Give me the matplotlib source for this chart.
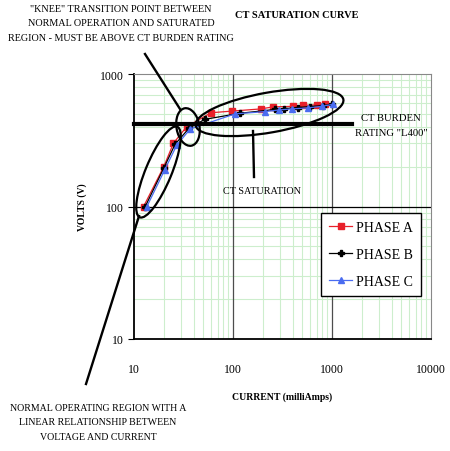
import matplotlib
matplotlib.use("Agg")
import matplotlib.pyplot as plt
from matplotlib.patches import Ellipse
from matplotlib.ticker import LogLocator, NullFormatter

plt.rcParams["font.family"] = ["Liberation Serif", "DejaVu Serif"]

# current (mA) / volts
phase_a_x = [12.5, 20, 25, 34, 60, 98, 190, 255, 405, 510, 700, 850]
phase_a_y = [100, 200, 300, 400, 510, 525, 545, 565, 570, 580, 585, 595]
phase_b_x = [13, 20, 26, 36, 52, 117, 265, 330, 450, 600, 810, 1000]
phase_b_y = [100, 195, 295, 390, 455, 505, 540, 548, 558, 568, 578, 590]
phase_c_x = [13.5, 20.5, 27, 37, 105, 210, 290, 390, 570, 790, 1020]
phase_c_y = [100, 190, 290, 385, 500, 520, 535, 545, 555, 570, 590]
burden_v = 420
burden_x = [10, 1600]

xticks = [10, 100, 1000, 10000]
yticks = [10, 100, 1000]

fig = plt.figure(figsize=(4.5, 4.52), dpi=100)
ax = fig.add_axes([134 / 450, 1 - 340 / 452, 297 / 450, 265 / 452])
ax.set_xscale("log")
ax.set_yscale("log")
ax.set_xlim(10, 10000)
ax.set_ylim(10, 1000)

ax.xaxis.set_minor_locator(LogLocator(base=10, subs=range(2, 10)))
ax.yaxis.set_minor_locator(LogLocator(base=10, subs=range(2, 10)))
ax.xaxis.set_minor_formatter(NullFormatter())
ax.yaxis.set_minor_formatter(NullFormatter())
ax.grid(which="minor", color="#cdeecd", linewidth=0.8)
ax.set_axisbelow(True)
for v in xticks[1:-1]:
    ax.axvline(v, color="#4d4d4d", linewidth=0.9, zorder=1)
ax.axhline(100, color="black", linewidth=0.9, zorder=1)

ax.set_xticks(xticks)
ax.set_yticks(yticks)
ax.set_xticklabels([str(t) for t in xticks])
ax.set_yticklabels([str(t) for t in yticks])
ax.tick_params(axis="x", which="both", length=0, pad=17, labelsize=8.5)
ax.tick_params(axis="y", which="major", length=4, direction="out", pad=3, labelsize=8.5)
ax.tick_params(axis="y", which="minor", length=0)
for s in ["top", "right"]:
    ax.spines[s].set_color("#888888")
    ax.spines[s].set_linewidth(0.8)
for s in ["left", "bottom"]:
    ax.spines[s].set_linewidth(1.3)

ax.plot(phase_a_x, phase_a_y, color="#e8202a", marker="s", markersize=4.6,
        linewidth=0.9, label="PHASE A", zorder=4)
ax.plot(phase_b_x, phase_b_y, color="black", marker="P", markersize=4,
        linewidth=0.9, label="PHASE B", zorder=4)
ax.plot(phase_c_x, phase_c_y, color="#4a6cf0", marker="^", markersize=4.6,
        linewidth=0.9, label="PHASE C", zorder=4)
ax.plot(burden_x, [burden_v, burden_v], color="black", linewidth=3, zorder=5,
        clip_on=False)

ax.set_xlabel("CURRENT (milliAmps)", fontsize=7, fontweight="bold", labelpad=12)
ax.set_ylabel("VOLTS (V)", fontsize=7, fontweight="bold", labelpad=10)

leg = ax.legend(loc="upper right", bbox_to_anchor=(0.99, 0.502), fontsize=10,
                fancybox=False, edgecolor="black", framealpha=1,
                handlelength=1.6, handletextpad=0.3, labelspacing=1.0,
                borderpad=0.6)
leg.get_frame().set_linewidth(1.0)
leg.set_zorder(6)

# overlay in pixel coordinates for the hand-drawn notes
ov = fig.add_axes([0, 0, 1, 1], facecolor="none")
ov.set_xlim(0, 450)
ov.set_ylim(452, 0)
ov.axis("off")

ov.add_patch(Ellipse((158.5, 173), 98, 26, angle=-67.5, fill=False,
                     edgecolor="black", linewidth=1.6))
ov.add_patch(Ellipse((188, 128), 38, 23, angle=80, fill=False,
                     edgecolor="black", linewidth=1.6))
ov.add_patch(Ellipse((269.5, 113.5), 150, 40, angle=-10, fill=False,
                     edgecolor="black", linewidth=1.6))
ov.plot([145, 180], [55, 110], color="black", linewidth=1.7)
ov.plot([253, 254], [132, 178], color="black", linewidth=1.7)
ov.plot([139, 86], [217, 385], color="black", linewidth=1.7)

ov.text(121, 24, "\"KNEE\" TRANSITION POINT BETWEEN\nNORMAL OPERATION AND SATURATED\n"
        "REGION - MUST BE ABOVE CT BURDEN RATING", ha="center", va="center",
        fontsize=7.3, linespacing=1.85)
ov.text(297, 16, "CT SATURATION CURVE", ha="center", va="center",
        fontsize=7.5, fontweight="bold")
ov.text(391, 126, "CT BURDEN\nRATING \"L400\"", ha="center", va="center",
        fontsize=7.7, linespacing=1.8)
ov.text(262, 192, "CT SATURATION", ha="center", va="center", fontsize=7.3)
ov.text(98, 423, "NORMAL OPERATING REGION WITH A\nLINEAR RELATIONSHIP BETWEEN\n"
        "VOLTAGE AND CURRENT", ha="center", va="center", fontsize=7.1,
        linespacing=1.85)

fig.savefig("out.png", dpi=100)
